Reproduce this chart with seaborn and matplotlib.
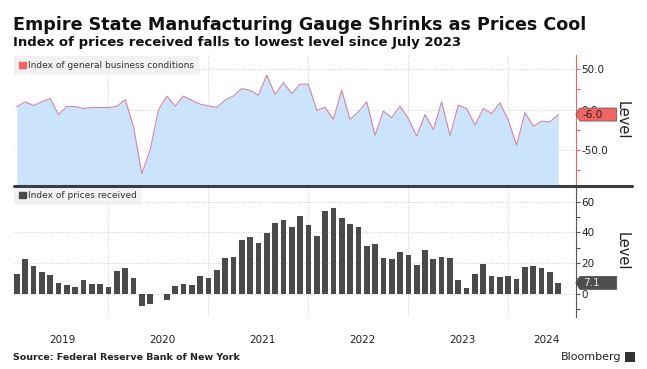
import numpy as np
import pandas as pd
import matplotlib.pyplot as plt
import matplotlib.transforms as mtransforms
from matplotlib.patches import Patch, Polygon, Rectangle
from matplotlib.lines import Line2D
import seaborn as sns

# Monthly data, Jan 2019 - Jun 2024
months = pd.date_range("2019-01-31", "2024-06-30", freq="ME")
business = [3.5, 9.7, 5.1, 9.7, 13.8, -6.0, 3.9, 4.0, 1.4, 2.7, 2.7, 2.7,
            4.0, 12.5, -21.0, -78.8, -50.0, 0.0, 16.7, 4.3, 16.7, 11.7, 6.8, 4.7,
            2.7, 11.7, 17.0, 26.0, 24.0, 17.9, 42.6, 18.7, 33.5, 20.0, 31.5, 31.5,
            -0.6, 2.7, -12.0, 24.0, -12.0, -2.7, 9.7, -31.5, -1.8, -9.7, 4.3, -10.9,
            -32.7, -6.0, -24.5, 9.7, -31.9, 5.5, 1.4, -19.0, 1.4, -4.7, 8.4, -13.0,
            -43.8, -3.5, -20.4, -14.2, -15.0, -6.0]
prices = [13.1, 22.7, 18.1, 14.2, 12.5, 6.8, 5.7, 4.4, 9.0, 6.3, 6.3, 4.4,
          14.6, 16.8, 10.3, -8.3, -7.0, -0.4, -4.2, 4.8, 6.3, 5.7, 11.8, 10.3,
          15.3, 23.6, 24.3, 35.4, 37.2, 33.4, 39.6, 46.3, 47.9, 43.7, 50.9, 45.0,
          37.4, 54.2, 56.2, 49.4, 45.7, 43.7, 31.3, 32.6, 23.6, 22.7, 27.3, 25.4,
          18.8, 28.6, 22.7, 24.3, 23.4, 9.0, 3.9, 12.9, 19.5, 11.8, 11.1, 11.8,
          9.6, 17.3, 18.1, 16.8, 14.2, 7.1]
year_labels = ["2019", "2020", "2021", "2022", "2023", "2024"]

df = pd.DataFrame({"month": months, "business": business, "prices": prices})
df["pos"] = np.arange(len(df))

sns.set_style("white")
plt.rcParams["font.family"] = ["DejaVu Sans"]

BLUE_FILL = "#cce4fb"
LINE_COL = "#cf86a8"
RED = "#f06464"
RED_AX = "#e06868"
BAR_COL = "#4a4a4a"
GRID = "#d0d0d0"

fig = plt.figure(figsize=(6.47, 3.69), dpi=100)
ax1 = fig.add_axes([0.0209, 0.4986, 0.869, 0.3524])
ax2 = fig.add_axes([0.0209, 0.1417, 0.869, 0.3569])

xlim = (-0.4, 67.1)
bounds = [i * 12 + 11 for i in range(5)]          # Dec month-ends = year breaks
first = [i * 12 for i in range(len(year_labels))]
label_pos = []
for i, f in enumerate(first):
    start = f - 1
    end = min(f + 11, xlim[1])
    label_pos.append((start + end) / 2 + 0.5)

# --- top: general business conditions
ax1.fill_between(df["pos"], df["business"], -100, color=BLUE_FILL, lw=0, zorder=1)
sns.lineplot(data=df, x="pos", y="business", ax=ax1, color=LINE_COL, lw=0.8, zorder=2)
ax1.set_xlim(*xlim)
ax1.set_ylim(-93, 67.5)
ax1.set_xticks(bounds)
ax1.set_xticklabels([])
ax1.set_yticks([50, 0, -50])
ax1.set_yticklabels(["50.0", "0.0", "-50.0"])
ax1.set_yticks([25, -25, -75], minor=True)

# --- bottom: prices received
sns.barplot(data=df, x="pos", y="prices", ax=ax2, color=BAR_COL, width=0.68,
            saturation=1, linewidth=0, edgecolor=BAR_COL, zorder=2)
ax2.set_xlim(*xlim)
ax2.set_ylim(-15, 71)
ax2.set_xticks(bounds)
ax2.set_xticklabels([])
ax2.set_xticks(label_pos, minor=True)
ax2.set_xticklabels(year_labels, minor=True)
ax2.set_yticks([0, 20, 40, 60])
ax2.set_yticklabels(["0", "20", "40", "60"])
ax2.set_yticks([-10, 10, 30, 50], minor=True)

for ax, spine_col in [(ax1, RED_AX), (ax2, "#555555")]:
    for s in ["top", "left", "bottom"]:
        ax.spines[s].set_visible(False)
    ax.spines["right"].set_color(spine_col)
    ax.spines["right"].set_linewidth(0.8)
    ax.yaxis.tick_right()
    ax.tick_params(axis="y", which="both", colors=spine_col, length=3, width=0.8,
                   labelcolor="#222222", labelsize=7.5, pad=1)
    ax.tick_params(axis="x", which="both", length=0)
    ax.grid(True, axis="both", which="major", color=GRID, lw=0.7, ls=(0, (1, 1.5)))
    ax.set_axisbelow(True)
    ax.set_xlabel("")
    ax.set_ylabel("Level", rotation=270, fontsize=10.5, color="#222222")
    ax.yaxis.set_label_position("right")
    ax.yaxis.set_label_coords(1.095, 0.5)

ax2.tick_params(axis="x", which="minor", labelsize=7.5, pad=13, labelcolor="#222222")

# --- legends
for ax, col, name in [(ax1, RED, "Index of general business conditions"),
                      (ax2, BAR_COL, "Index of prices received")]:
    leg = ax.legend(handles=[Patch(color=col, label=name)], loc="upper left",
                    bbox_to_anchor=(0, 1.0), borderaxespad=0.1, frameon=True,
                    fancybox=False, handlelength=0.7, handleheight=0.7,
                    handletextpad=0.3, fontsize=6.5, borderpad=0.55)
    leg.get_frame().set_facecolor("#efefef")
    leg.get_frame().set_edgecolor("none")
    for t in leg.get_texts():
        t.set_color("#333333")

# --- last value tags on the right axis
def value_tag(ax, value, face, txt_col):
    anchor = mtransforms.blended_transform_factory(ax.transAxes, ax.transData)
    trans = (mtransforms.Affine2D().scale(fig.dpi / 72.0)
             + mtransforms.ScaledTranslation(1.0, value, anchor))
    pts = [(0, 0), (3, 4.7), (29.5, 4.7), (29.5, -4.7), (3, -4.7)]
    ax.add_patch(Polygon(pts, closed=True, transform=trans, facecolor=face,
                         edgecolor="#555555" if face == RED else face, lw=0.5,
                         clip_on=False, zorder=6))
    ax.annotate(f"{value:.1f}", xy=(1.0, value), xycoords=anchor,
                xytext=(5, 0), textcoords="offset points", va="center",
                ha="left", fontsize=7.5, color=txt_col, zorder=7,
                annotation_clip=False)

value_tag(ax1, business[-1], RED, "#222222")
value_tag(ax2, prices[-1], "#4e4e4e", "#e8e8e8")

# separator between panels
fig.add_artist(Line2D([14 / 647, 632 / 647], [1 - 186 / 369] * 2,
                      color="#3b3e43", lw=2.2, transform=fig.transFigure))

# --- titles and footer
fig.text(0.02, 0.932, "Empire State Manufacturing Gauge Shrinks as Prices Cool",
         fontsize=12.6, fontweight="bold", va="center", ha="left", color="#111111")
fig.text(0.02, 0.884, "Index of prices received falls to lowest level since July 2023",
         fontsize=9.5, fontweight="bold", va="center", ha="left", color="#111111")
fig.text(0.02, 0.030, "Source: Federal Reserve Bank of New York",
         fontsize=6.8, fontweight="bold", va="center", ha="left", color="#222222")
fig.text(0.960, 0.032, "Bloomberg", fontsize=8, va="center", ha="right",
         color="#222222")
fig.add_artist(Rectangle((0.966, 0.020), 0.015, 0.025, transform=fig.transFigure,
                         facecolor="#333333", edgecolor="none"))

fig.savefig("out.png", dpi=100)
